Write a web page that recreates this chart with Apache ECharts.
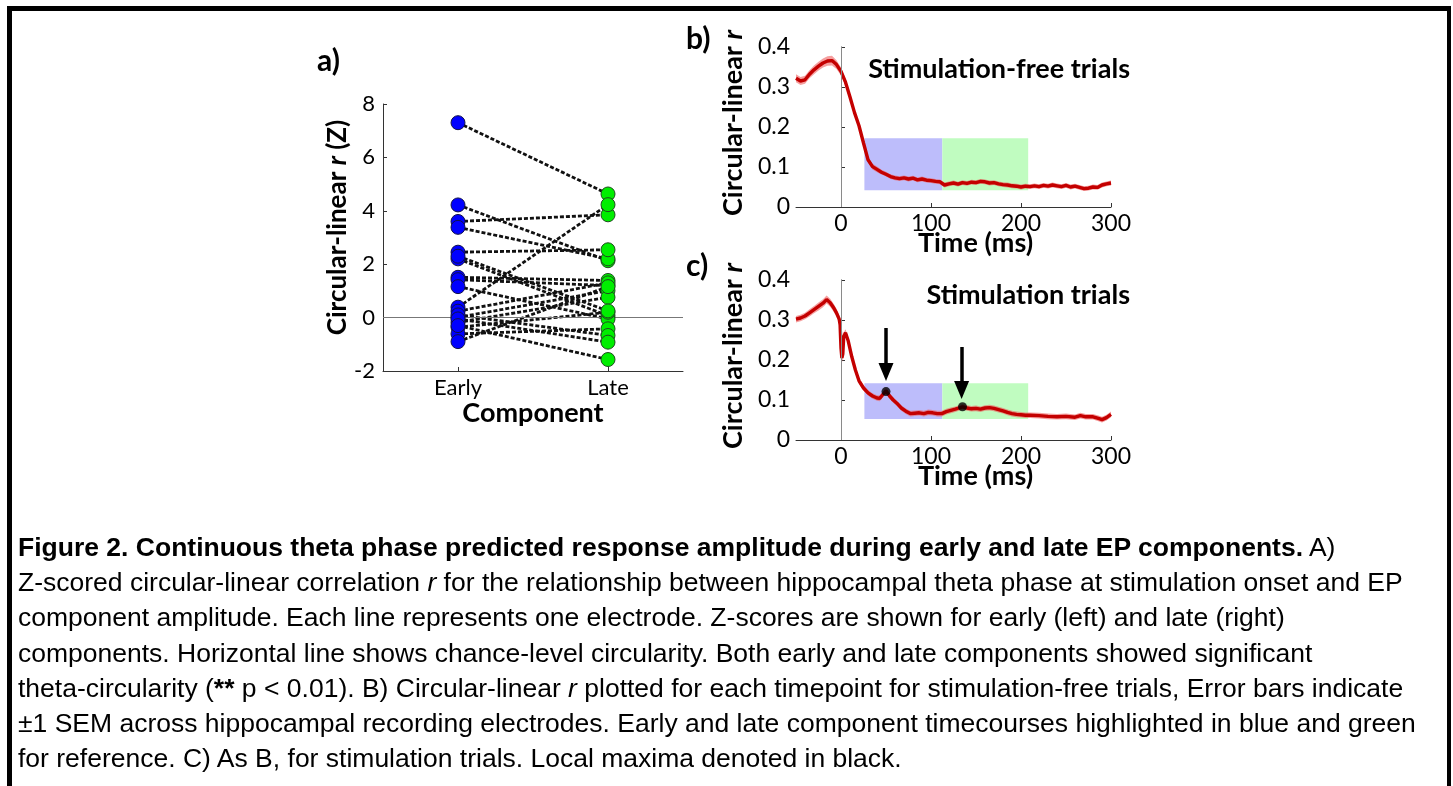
<!DOCTYPE html>
<html>
<head>
<meta charset="utf-8">
<script src="https://cdn.jsdelivr.net/npm/echarts@6/dist/echarts.min.js"></script>
<style>
  html, body { margin: 0; padding: 0; background: #fff; }
  .page { position: relative; width: 1453px; height: 786px; overflow: hidden; }
  .frame {
    position: absolute; left: 7px; top: 6px; width: 1435px; height: 800px;
    border-top: 5px solid #000; border-left: 5px solid #000; border-right: 4px solid #000;
  }
  #chart { position: absolute; left: 0; top: 0; width: 1453px; height: 786px; }
  .caption {
    position: absolute; left: 18px; top: 530px;
    font-family: "Liberation Sans", Arial, sans-serif; font-size: 26.5px;
    line-height: 35.2px; color: #000; white-space: nowrap;
  }
</style>
</head>
<body>
<div class="page">
  <div class="frame"></div>
  <div id="chart"></div>
  <div class="caption">
    <b>Figure 2. Continuous theta phase predicted response amplitude during early and late EP components.</b> A)<br>
    Z-scored circular-linear correlation <i>r</i> for the relationship between hippocampal theta phase at stimulation onset and EP<br>
    component amplitude. Each line represents one electrode. Z-scores are shown for early (left) and late (right)<br>
    components. Horizontal line shows chance-level circularity. Both early and late components showed significant<br>
    theta-circularity (<b>**</b> p &lt; 0.01). B) Circular-linear <i>r</i> plotted for each timepoint for stimulation-free trials, Error bars indicate<br>
    ±1 SEM across hippocampal recording electrodes. Early and late component timecourses highlighted in blue and green<br>
    for reference. C) As B, for stimulation trials. Local maxima denoted in black.
  </div>
</div>
<script>
// panel a: Z-scored r per electrode (paired by index)
const components = ['Early', 'Late'];
const earlyZ = [7.3, 4.22, 3.6, 3.38, 2.45, 2.2, 1.51, 1.42, 1.16, 0.39, 0.24, 0.01, -0.18, -0.36, -0.61, -0.9, 0.1, -0.05, 2.3, -0.3];
const lateZ  = [4.63, 2.13, 3.85, 2.2, 2.54, 0.07, 1.39, 1.2, -0.05, 4.23, 1.3, 1.01, 0.76, 0.2, -0.42, 1.16, -0.67, -0.92, 0.25, -1.57];

// panel b: stimulation-free trials
const timeB = [-50,-45,-40,-35,-30,-25,-20,-15,-10,-5,0,5,10,15,20,25,30,35,40,45,50,55,60,65,70,75,80,85,90,95,100,105,110,115,120,125,130,135,140,145,150,155,160,165,170,175,180,185,190,195,200,205,210,215,220,225,230,235,240,245,250,255,260,265,270,275,280,285,290,295,300];
const meanB = [0.322,0.315,0.318,0.332,0.343,0.352,0.360,0.365,0.366,0.356,0.339,0.312,0.275,0.236,0.203,0.160,0.118,0.101,0.094,0.087,0.082,0.076,0.073,0.071,0.073,0.070,0.072,0.068,0.070,0.067,0.066,0.064,0.063,0.055,0.058,0.060,0.057,0.061,0.059,0.062,0.061,0.064,0.063,0.060,0.061,0.058,0.056,0.055,0.053,0.052,0.050,0.052,0.051,0.053,0.051,0.054,0.052,0.055,0.053,0.051,0.054,0.050,0.052,0.049,0.046,0.047,0.050,0.049,0.055,0.058,0.060];
const semB  = [0.010,0.010,0.010,0.010,0.011,0.011,0.011,0.012,0.012,0.011,0.010,0.009,0.008,0.008,0.007,0.007,0.007,0.007,0.007,0.006,0.006,0.006,0.006,0.006,0.006,0.006,0.006,0.006,0.006,0.006,0.006,0.006,0.006,0.006,0.006,0.006,0.006,0.006,0.006,0.006,0.006,0.006,0.006,0.006,0.006,0.006,0.006,0.006,0.006,0.006,0.006,0.006,0.006,0.006,0.006,0.006,0.006,0.006,0.006,0.006,0.006,0.006,0.006,0.006,0.006,0.006,0.006,0.006,0.006,0.006,0.006];

// panel c: stimulation trials
const timeC = [-50,-45,-40,-35,-30,-25,-20,-16,-12,-8,-5,-2,-1,0,1,2,3,5,8,12,16,20,25,30,35,40,43,47,50,54,58,62,67,72,77,82,87,92,97,102,107,112,117,122,127,131,135,140,145,150,155,160,165,170,175,180,185,190,195,200,205,210,220,230,240,250,260,266,272,280,286,290,295,300];
const meanC = [0.302,0.305,0.310,0.318,0.326,0.334,0.342,0.351,0.343,0.330,0.318,0.302,0.288,0.230,0.205,0.215,0.258,0.268,0.248,0.208,0.175,0.148,0.130,0.118,0.110,0.105,0.104,0.115,0.123,0.110,0.100,0.092,0.080,0.072,0.066,0.067,0.068,0.066,0.069,0.068,0.066,0.066,0.071,0.074,0.077,0.080,0.083,0.080,0.078,0.079,0.077,0.080,0.081,0.079,0.076,0.073,0.069,0.066,0.064,0.063,0.062,0.062,0.061,0.059,0.058,0.059,0.057,0.061,0.058,0.058,0.054,0.051,0.056,0.064];
const semC  = [0.008,0.008,0.008,0.009,0.009,0.010,0.010,0.010,0.010,0.010,0.010,0.010,0.010,0.012,0.012,0.012,0.010,0.009,0.009,0.008,0.008,0.008,0.007,0.007,0.007,0.007,0.007,0.007,0.007,0.007,0.007,0.007,0.007,0.007,0.007,0.007,0.007,0.007,0.007,0.007,0.007,0.007,0.007,0.007,0.007,0.007,0.007,0.007,0.007,0.007,0.007,0.007,0.007,0.007,0.007,0.007,0.007,0.007,0.007,0.007,0.007,0.007,0.007,0.007,0.007,0.007,0.007,0.007,0.007,0.007,0.007,0.007,0.007,0.007];
const peaksC = [[50, 0.121], [135, 0.083]];
const arrowsC = [[50, 0.28, 0.17], [134, 0.2325, 0.125]]; // x, top, head centre

// highlighted component windows (ms) and box heights
const earlyWin = [26, 112.6];
const lateWin = [112.6, 208];
const boxB = [0.042, 0.172];
const boxC = [0.0525, 0.142];

const timeTicks = [0, 100, 200, 300];

const FONT = 'Lato';
const AX = '#333';

const chart = echarts.init(document.getElementById('chart'));

function rText(size) {
  return {
    b: { fontFamily: FONT, fontWeight: 'bold', fontSize: size, color: '#000' },
    i: { fontFamily: FONT, fontWeight: 'bold', fontStyle: 'italic', fontSize: size, color: '#000' }
  };
}

function timeAxis(gi) {
  return {
    type: 'value', gridIndex: gi, min: -50, max: 300,
    name: 'Time (ms)', nameLocation: 'middle', nameGap: 23, nameMoveOverlap: false,
    nameTextStyle: { fontFamily: FONT, fontWeight: 'bold', fontSize: 27, color: '#000', padding: [0, 0, 0, 44] },
    axisLine: { show: true, onZero: false, lineStyle: { color: AX } },
    axisTick: { show: true, inside: true, length: 4, customValues: timeTicks, lineStyle: { color: AX } },
    axisLabel: { customValues: timeTicks, fontFamily: FONT, fontSize: 23, color: '#000', margin: 5 },
    splitLine: { show: false }
  };
}

function rAxis(gi) {
  return {
    type: 'value', gridIndex: gi, min: 0, max: 0.4, interval: 0.1,
    name: '{b|Circular-linear }{i|r}', nameLocation: 'middle', nameGap: 49,
    nameTextStyle: { rich: rText(27), padding: [0, 0, 0, 8] },
    axisLine: { show: true, lineStyle: { color: AX } },
    axisTick: { show: true, inside: true, length: 4, lineStyle: { color: AX } },
    axisLabel: { fontFamily: FONT, fontSize: 23, color: '#000', margin: 6,
      formatter: v => (v === 0 ? '0' : v.toFixed(1)) },
    splitLine: { show: false }
  };
}

function boxes(box) {
  return [
    [{ xAxis: earlyWin[0], yAxis: box[0], itemStyle: { color: '#bdbdfb' } }, { xAxis: earlyWin[1], yAxis: box[1] }],
    [{ xAxis: lateWin[0], yAxis: box[0], itemStyle: { color: '#c0fcc0' } }, { xAxis: lateWin[1], yAxis: box[1] }]
  ];
}

function traceSeries(gi, time, mean, sem, box) {
  const line = time.map((t, i) => [t, mean[i]]);
  const band = time.map((t, i) => [t, mean[i] - sem[i], mean[i] + sem[i]]);
  return [
    {
      // windows and the stimulus-onset line
      type: 'line', xAxisIndex: gi, yAxisIndex: gi, data: [], silent: true, z: 1,
      markArea: { silent: true, data: boxes(box) },
      markLine: { silent: true, symbol: 'none', label: { show: false },
        lineStyle: { color: '#8a8a8a', width: 1, type: 'solid' }, data: [{ xAxis: 0 }] }
    },
    {
      // SEM band, drawn as one polygon
      type: 'custom', xAxisIndex: gi, yAxisIndex: gi, data: band, silent: true, z: 2,
      encode: { x: 0, y: [1, 2] },
      renderItem: (params, api) => {
        if (params.dataIndex !== 0) return null;
        const upper = band.map(d => api.coord([d[0], d[2]]));
        const lower = band.map(d => api.coord([d[0], d[1]])).reverse();
        return { type: 'polygon', shape: { points: upper.concat(lower) },
          style: { fill: 'rgba(238, 95, 95, 0.6)' } };
      }
    },
    {
      type: 'line', xAxisIndex: gi, yAxisIndex: gi, data: line,
      symbol: 'none', lineStyle: { color: '#c40000', width: 3.4 }, z: 3
    }
  ];
}

const pairSeries = earlyZ.map((e, i) => ({
  type: 'line', xAxisIndex: 0, yAxisIndex: 0,
  data: [[components[0], e], [components[1], lateZ[i]]],
  symbol: 'none', silent: true, z: 2,
  lineStyle: { color: '#111', width: 2.8, type: [4, 2] }
}));

chart.setOption({
  animation: false,
  textStyle: { fontFamily: FONT },
  grid: [
    { left: 383, top: 104, width: 300, height: 267 },
    { left: 796, top: 47, width: 315, height: 160 },
    { left: 796, top: 280, width: 315, height: 160 }
  ],
  graphic: [
    { type: 'text', left: 317, top: 46, style: { text: 'a)', font: 'bold 30px Lato', fill: '#000' } },
    { type: 'text', left: 686, top: 24, style: { text: 'b)', font: 'bold 30px Lato', fill: '#000' } },
    { type: 'text', left: 686, top: 251, style: { text: 'c)', font: 'bold 30px Lato', fill: '#000' } },
    { type: 'text', right: 323, top: 56, style: { text: 'Stimulation-free trials', font: 'bold 27px Lato', fill: '#000' } },
    { type: 'text', right: 323, top: 282, style: { text: 'Stimulation trials', font: 'bold 27px Lato', fill: '#000' } }
  ],
  xAxis: [
    {
      type: 'category', gridIndex: 0, data: components, boundaryGap: true,
      name: 'Component', nameLocation: 'middle', nameGap: 27,
      nameTextStyle: { fontFamily: FONT, fontWeight: 'bold', fontSize: 27, color: '#000' },
      axisLine: { show: true, onZero: false, lineStyle: { color: AX } },
      axisTick: { show: true, inside: true, alignWithLabel: true, length: 4, lineStyle: { color: AX } },
      axisLabel: { fontFamily: FONT, fontSize: 22, color: '#000', margin: 6 }
    },
    timeAxis(1),
    timeAxis(2)
  ],
  yAxis: [
    {
      type: 'value', gridIndex: 0, min: -2, max: 8, interval: 2,
      name: '{b|Circular-linear }{i|r}{b| (Z)}', nameLocation: 'middle', nameGap: 30,
      nameTextStyle: { rich: rText(26), padding: [0, 0, 0, 20] },
      axisLine: { show: true, lineStyle: { color: AX } },
      axisTick: { show: true, inside: true, length: 4, lineStyle: { color: AX } },
      axisLabel: { fontFamily: FONT, fontSize: 22, color: '#000', margin: 8 },
      splitLine: { show: false }
    },
    rAxis(1),
    rAxis(2)
  ],
  series: [
    ...pairSeries,
    {
      type: 'line', xAxisIndex: 0, yAxisIndex: 0, data: [], silent: true,
      markLine: { silent: true, symbol: 'none', label: { show: false },
        lineStyle: { color: '#777', width: 1, type: 'solid' }, data: [{ yAxis: 0 }] }
    },
    {
      type: 'scatter', xAxisIndex: 0, yAxisIndex: 0, z: 5,
      data: earlyZ.map(v => [components[0], v]), symbolSize: 14,
      itemStyle: { color: '#0000ff', borderColor: '#10104a', borderWidth: 1, opacity: 1 }
    },
    {
      type: 'scatter', xAxisIndex: 0, yAxisIndex: 0, z: 5,
      data: lateZ.map(v => [components[1], v]), symbolSize: 14,
      itemStyle: { color: '#00ee00', borderColor: '#1f4a1f', borderWidth: 1, opacity: 1 }
    },
    ...traceSeries(1, timeB, meanB, semB, boxB),
    ...traceSeries(2, timeC, meanC, semC, boxC),
    {
      type: 'scatter', xAxisIndex: 2, yAxisIndex: 2, z: 6,
      data: peaksC, symbolSize: 9, itemStyle: { color: '#000' },
      markLine: {
        silent: true, symbol: ['none', 'triangle'], symbolSize: [15, 18],
        label: { show: false },
        lineStyle: { color: '#000', width: 3.5, type: 'solid' },
        itemStyle: { color: '#000' },
        data: arrowsC.map(a => [{ coord: [a[0], a[1]] }, { coord: [a[0], a[2]] }])
      }
    }
  ]
});
</script>
</body>
</html>
